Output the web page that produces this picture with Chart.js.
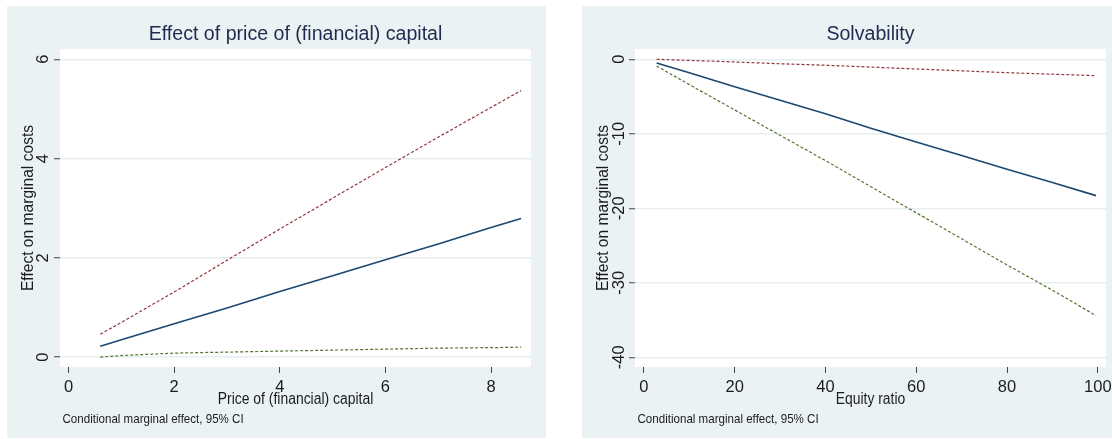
<!DOCTYPE html>
<html>
<head>
<meta charset="utf-8">
<script src="https://cdn.jsdelivr.net/npm/chart.js@4.4.1/dist/chart.umd.min.js"></script>
<style>
  html, body { margin: 0; padding: 0; background: #ffffff; overflow: hidden; width: 1112px; height: 439px; }
  .panel { position: absolute; top: 6px; width: 539px; height: 432px; }
  #panelPrice { left: 7px; }
  #panelEquity { left: 582px; }
  canvas { display: block; }
</style>
</head>
<body>
<div class="panel" id="panelPrice"><canvas id="chartPrice" width="539" height="432"></canvas></div>
<div class="panel" id="panelEquity"><canvas id="chartEquity" width="539" height="432"></canvas></div>
<script>
// Conditional marginal effect of the price of (financial) capital, with 95% CI
const priceX      = [0.6, 1, 2, 3, 4, 5, 6, 7, 8, 8.57];
const priceEffect = [0.22, 0.35, 0.67, 0.99, 1.32, 1.64, 1.96, 2.28, 2.61, 2.79];
const priceUpper  = [0.46, 0.70, 1.31, 1.95, 2.58, 3.20, 3.82, 4.43, 5.03, 5.37];
const priceLower  = [0.00, 0.03, 0.08, 0.10, 0.12, 0.14, 0.16, 0.18, 0.19, 0.20];
const priceTicksX = [0, 2, 4, 6, 8];
const priceTicksY = [0, 2, 4, 6];

// Conditional marginal effect of solvability (equity ratio), with 95% CI
const equityX      = [2.8, 10, 20, 30, 40, 50, 60, 70, 80, 90, 99.6];
const equityEffect = [-0.5, -1.8, -3.7, -5.5, -7.3, -9.25, -11.1, -12.9, -14.75, -16.55, -18.3];
const equityUpper  = [0.0, -0.15, -0.36, -0.6, -0.8, -1.05, -1.3, -1.55, -1.8, -2.0, -2.2];
const equityLower  = [-0.9, -3.4, -6.8, -10.2, -13.6, -17.1, -20.6, -24.1, -27.6, -31.0, -34.4];
const equityTicksX = [0, 20, 40, 60, 80, 100];
const equityTicksY = [0, -10, -20, -30, -40];

const SANS = '"Liberation Sans", Arial, Helvetica, sans-serif';

const PANEL_BG   = '#eaf2f3';
const GRID       = '#e6eef0';
const TITLE_INK  = '#1f2c4f';
const TEXT_INK   = '#1c1c1c';
const C_EFFECT   = '#1a476f';
const C_UPPER    = '#90353b';
const C_LOWER    = '#55752f';

// Text drawn with a horizontal squeeze to get a condensed face
function squeezedText(ctx, text, x, y, size, squeeze, align) {
  ctx.save();
  ctx.translate(x, y);
  ctx.scale(squeeze, 1);
  ctx.font = size + 'px ' + SANS;
  ctx.textAlign = align;
  ctx.textBaseline = 'middle';
  ctx.fillText(text, 0, 0);
  ctx.restore();
}

// Panel background, white plot region, and the text around the plot
const panelDecor = {
  id: 'panelDecor',
  beforeDraw(chart) {
    const { ctx, chartArea: a, width, height } = chart;
    ctx.save();
    ctx.fillStyle = PANEL_BG;
    ctx.fillRect(0, 0, width, height);
    ctx.fillStyle = '#ffffff';
    ctx.fillRect(a.left, a.top, a.right - a.left, a.bottom - a.top);
    ctx.restore();
  },
  afterDraw(chart, args, opts) {
    const { ctx, chartArea: a } = chart;
    const cx = (a.left + a.right) / 2;
    const cy = (a.top + a.bottom) / 2;
    ctx.save();

    ctx.fillStyle = TITLE_INK;
    squeezedText(ctx, opts.title, cx, a.top - 14, 19.6, 1, 'center');

    ctx.fillStyle = TEXT_INK;
    squeezedText(ctx, opts.xTitle, cx, a.bottom + 33, 16, 0.87, 'center');

    ctx.save();
    ctx.translate(a.left - 31, cy);
    ctx.rotate(-Math.PI / 2);
    squeezedText(ctx, opts.yTitle, 0, 0, 15.6, 1, 'center');
    ctx.restore();

    squeezedText(ctx, opts.note, a.left + 2.5, a.bottom + 52, 13, 0.89, 'left');
    ctx.restore();
  }
};

function lineSet(label, xs, ys, color, dashed) {
  return {
    label,
    data: xs.map((x, i) => ({ x, y: ys[i] })),
    borderColor: color,
    borderWidth: dashed ? 1.2 : 1.6,
    borderDash: dashed ? [3, 2] : [],
    pointRadius: 0,
    tension: 0,
    fill: false
  };
}

function makePanel(canvasId, spec) {
  return new Chart(document.getElementById(canvasId), {
    type: 'line',
    data: {
      datasets: [
        lineSet('Upper 95% CI', spec.x, spec.upper, C_UPPER, true),
        lineSet('Lower 95% CI', spec.x, spec.lower, C_LOWER, true),
        lineSet('Marginal effect', spec.x, spec.effect, C_EFFECT, false)
      ]
    },
    options: {
      responsive: false,
      maintainAspectRatio: false,
      animation: false,
      events: [],
      layout: { padding: { top: 43, right: 15, bottom: 0, left: 0 } },
      plugins: {
        legend: { display: false },
        title: { display: false },
        tooltip: { enabled: false },
        panelDecor: {
          title: spec.title,
          xTitle: spec.xTitle,
          yTitle: 'Effect on marginal costs',
          note: 'Conditional marginal effect, 95% CI'
        }
      },
      scales: {
        x: {
          type: 'linear',
          position: 'bottom',
          min: spec.xMin,
          max: spec.xMax,
          afterFit(scale) { scale.height = 71; },
          afterBuildTicks(scale) { scale.ticks = spec.ticksX.map(v => ({ value: v })); },
          border: { display: false },
          grid: {
            drawOnChartArea: false,
            drawTicks: true,
            tickLength: 6,
            tickColor: '#444444',
            tickWidth: 1
          },
          ticks: {
            color: TEXT_INK,
            font: { family: SANS, size: 16.5 },
            padding: 5,
            maxRotation: 0,
            minRotation: 0
          }
        },
        y: {
          type: 'linear',
          position: 'left',
          min: spec.yMin,
          max: spec.yMax,
          afterFit(scale) { scale.width = 53; },
          afterBuildTicks(scale) { scale.ticks = spec.ticksY.map(v => ({ value: v })); },
          border: { display: false },
          grid: {
            drawOnChartArea: true,
            color: GRID,
            lineWidth: 1.5,
            drawTicks: true,
            tickLength: 6,
            tickColor: '#444444',
            tickWidth: 1
          },
          ticks: {
            color: TEXT_INK,
            font: { family: SANS, size: 16.5 },
            minRotation: 90,
            maxRotation: 90,
            crossAlign: 'center',
            padding: spec.yTickPad
          }
        }
      }
    },
    plugins: [panelDecor]
  });
}

makePanel('chartPrice', {
  title: 'Effect of price of (financial) capital',
  xTitle: 'Price of (financial) capital',
  x: priceX, effect: priceEffect, upper: priceUpper, lower: priceLower,
  ticksX: priceTicksX, ticksY: priceTicksY,
  xMin: -0.163, xMax: 8.757, yMin: -0.2, yMax: 6.207,
  yTickPad: 6.4
});

makePanel('chartEquity', {
  title: 'Solvability',
  xTitle: 'Equity ratio',
  x: equityX, effect: equityEffect, upper: equityUpper, lower: equityLower,
  ticksX: equityTicksX, ticksY: equityTicksY,
  xMin: -1.96, xMax: 101.8, yMin: -41.3, yMax: 1.38,
  yTickPad: -2.5
});
</script>
</body>
</html>
